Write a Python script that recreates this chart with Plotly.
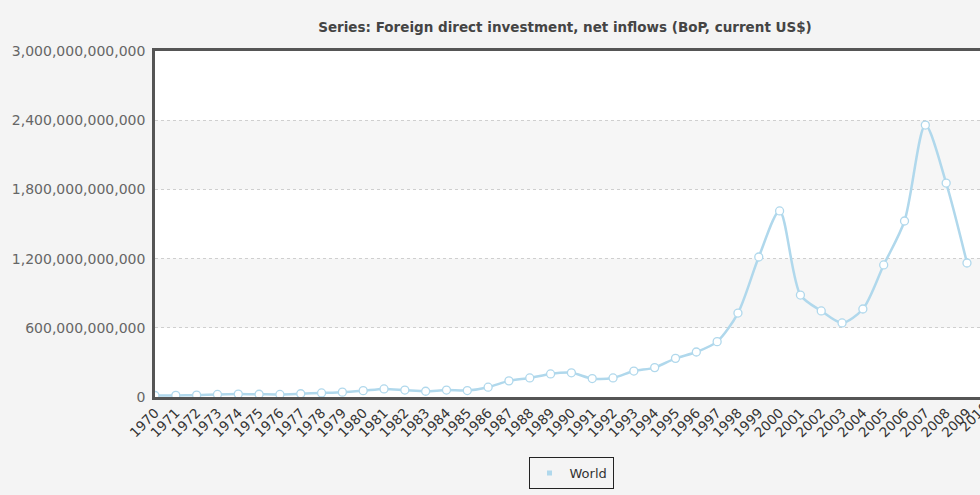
import plotly.graph_objects as go

years = list(range(1970, 2010))
fdi = [13e9, 14e9, 16e9, 22e9, 25e9, 24e9, 22e9, 28e9, 35e9, 42e9,
       55e9, 70e9, 60e9, 50e9, 60e9, 56e9, 85e9, 140e9, 165e9, 200e9,
       210e9, 160e9, 165e9, 225e9, 255e9, 335e9, 390e9, 480e9, 728e9, 1214e9,
       1613e9, 884e9, 746e9, 642e9, 763e9, 1145e9, 1526e9, 2358e9, 1855e9, 1162e9]
tick_years = list(range(1970, 2011))
series_name = "World"
title_text = "Series: Foreign direct investment, net inflows (BoP, current US$)"
y_ticks = [0, 600e9, 1200e9, 1800e9, 2400e9, 3000e9]

LINE = "#b0d8ec"
fig = go.Figure()

# alternating bands
shapes = []
for i in range(len(y_ticks) - 1):
    if i % 2 == 1:
        shapes.append(dict(type="rect", xref="paper", yref="y", x0=0, x1=1,
                           y0=y_ticks[i], y1=y_ticks[i + 1],
                           fillcolor="#f6f6f6", line=dict(width=0), layer="below"))

fig.add_trace(go.Scatter(
    x=years, y=fdi, mode="lines+markers", name=series_name, showlegend=False,
    line=dict(color=LINE, width=2.5, shape="spline", smoothing=0.8),
    marker=dict(size=8, color="white", line=dict(color=LINE, width=1.3)),
))
fig.add_trace(go.Scatter(
    x=[None], y=[None], mode="markers", name=series_name,
    marker=dict(symbol="square", size=5, color=LINE),
))

W, H = 980, 495
L, R, T, B = 155, 0, 51, 98
px_per_year = 20.82
x_end = years[0] + (W - L - R) / px_per_year
PW, PH = W - L - R, H - T - B

visible_ticks = [y for y in tick_years if y <= x_end]
hidden_ticks = [y for y in tick_years if y > x_end]
XFONT = dict(family="DejaVu Sans", size=13.5, color="#333")

fig.update_layout(
    width=W, height=H,
    margin=dict(l=L, r=R, t=T, b=B),
    paper_bgcolor="#f4f4f4",
    plot_bgcolor="white",
    shapes=shapes,
    title=dict(text="<b>" + title_text + "</b>", x=565 / W, xanchor="center",
               y=1 - 27 / H, yanchor="middle",
               font=dict(family="DejaVu Sans", size=13.5, color="#444")),
    showlegend=True,
    legend=dict(orientation="h", x=(571 - L) / PW, xanchor="center",
                y=-(473 - (H - B)) / PH, yanchor="middle", itemwidth=30,
                bgcolor="#f4f4f4", bordercolor="#222", borderwidth=1,
                font=dict(family="DejaVu Sans", size=13, color="#333")),
    xaxis=dict(range=[years[0], x_end], tickmode="array", tickvals=visible_ticks,
               ticktext=[str(y) for y in visible_ticks], tickangle=-45,
               showgrid=False, zeroline=False, showline=True, linecolor="#555",
               linewidth=2.5, mirror=True, ticks="", tickfont=XFONT),
    yaxis=dict(range=[0, 3000e9], tickvals=y_ticks, tickformat=",.0f",
               showgrid=True, gridcolor="#cfcfcf", griddash="dot", gridwidth=1,
               zeroline=False, showline=True, linecolor="#555", linewidth=2.5,
               ticks="", ticklabelstandoff=4,
               tickfont=dict(family="DejaVu Sans", size=14, color="#666")),
)

# partially visible tick label(s) beyond the right edge
for yr in hidden_ticks:
    cx = (yr - years[0]) * px_per_year - 14
    fig.add_annotation(text=str(yr), xref="paper", yref="paper",
                       x=cx / PW, y=-20 / PH,
                       xanchor="center", yanchor="middle", showarrow=False, textangle=-45,
                       font=XFONT)

fig.write_html("out.html")
